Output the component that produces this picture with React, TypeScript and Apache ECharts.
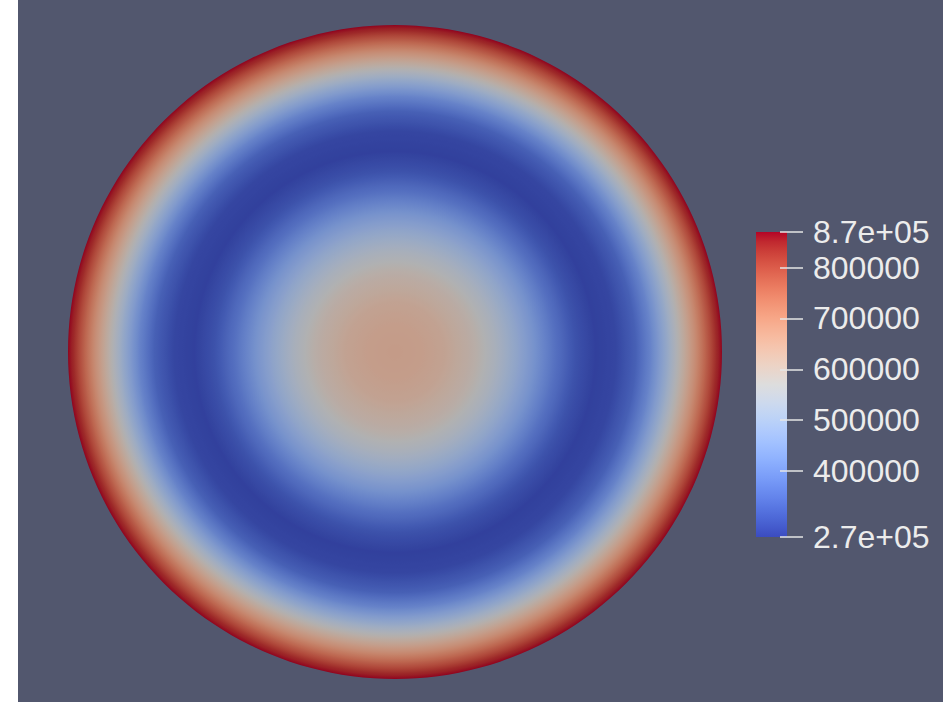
import React, { useEffect, useRef } from 'react';
import * as echarts from 'echarts';

// Radial profile of the field (radius as fraction of disk radius, value)
const radii = [0, 0.077, 0.153, 0.245, 0.307, 0.368, 0.429, 0.491, 0.552, 0.613, 0.675, 0.736, 0.782, 0.828, 0.874, 0.92, 0.957, 0.982, 1.0];
const values = [650000, 645000, 630000, 590000, 545000, 490000, 430000, 360000, 305000, 276000, 285000, 330000, 400000, 490000, 590000, 690000, 780000, 840000, 870000];

const rangeMin = 270000;
const rangeMax = 870000;
const tickValues = [270000, 400000, 500000, 600000, 700000, 800000, 870000];
const tickLabels: Record<number, string> = { 270000: '2.7e+05', 870000: '8.7e+05' };

// ParaView "Cool to Warm" colormap
const coolWarm = [
  [59, 76, 192], [68, 90, 204], [77, 104, 215], [87, 117, 225], [98, 130, 234], [108, 142, 241],
  [119, 154, 247], [130, 165, 251], [141, 176, 254], [152, 185, 255], [163, 194, 255], [174, 201, 253],
  [184, 208, 249], [194, 213, 244], [204, 217, 238], [213, 219, 230], [221, 221, 221], [229, 216, 209],
  [236, 211, 197], [241, 204, 185], [245, 196, 173], [247, 187, 160], [247, 177, 148], [247, 166, 135],
  [244, 154, 123], [241, 141, 111], [236, 127, 99], [229, 112, 88], [222, 96, 77], [213, 80, 66],
  [203, 62, 56], [192, 40, 47], [180, 4, 38],
];

function cmap(v: number, shade = 1): string {
  let t = (v - rangeMin) / (rangeMax - rangeMin);
  t = Math.max(0, Math.min(1, t));
  const f = t * (coolWarm.length - 1);
  const i = Math.min(coolWarm.length - 2, Math.floor(f));
  const u = f - i;
  const a = coolWarm[i], b = coolWarm[i + 1];
  const c = [0, 1, 2].map((k) => Math.round((a[k] + (b[k] - a[k]) * u) * shade));
  return `rgb(${c[0]},${c[1]},${c[2]})`;
}

const SHADE = 0.8;
const SUB = 8;

function diskStops() {
  const stops: { offset: number; color: string }[] = [];
  for (let i = 0; i < radii.length - 1; i++) {
    for (let s = 0; s < SUB; s++) {
      const u = s / SUB;
      const r = radii[i] + (radii[i + 1] - radii[i]) * u;
      const v = values[i] + (values[i + 1] - values[i]) * u;
      stops.push({ offset: r, color: cmap(v, SHADE) });
    }
  }
  stops.push({ offset: radii[radii.length - 1], color: cmap(values[values.length - 1], SHADE) });
  return stops;
}

function barStops() {
  const n = coolWarm.length;
  const stops: { offset: number; color: string }[] = [];
  for (let i = 0; i < n; i++) {
    const c = coolWarm[n - 1 - i];
    stops.push({ offset: i / (n - 1), color: `rgb(${c[0]},${c[1]},${c[2]})` });
  }
  return stops;
}

export default function App() {
  const ref = useRef<HTMLDivElement>(null);
  useEffect(() => {
    if (!ref.current) return;
    const chart = echarts.init(ref.current, null, { renderer: 'svg' });
    const option: any = {
      animation: false,
      backgroundColor: '#52576e',
      grid: [
        { left: 50, top: 25, width: 654, height: 654 },
        { left: 738, top: 232, width: 31, height: 305 },
        { left: 762, top: 232, width: 23, height: 305 },
      ],
      xAxis: [
        { gridIndex: 0, type: 'value', min: -1, max: 1, show: false },
        { gridIndex: 1, type: 'value', min: 0, max: 1, show: false },
        { gridIndex: 2, type: 'value', min: 0, max: 1, show: false },
      ],
      yAxis: [
        { gridIndex: 0, type: 'value', min: -1, max: 1, show: false },
        { gridIndex: 1, type: 'value', min: rangeMin, max: rangeMax, show: false },
        {
          gridIndex: 2,
          type: 'value',
          min: rangeMin,
          max: rangeMax,
          position: 'left',
          z: 10,
          splitLine: { show: false },
          axisLine: { show: false },
          axisTick: {
            show: true,
            inside: true,
            length: 23,
            customValues: tickValues,
            lineStyle: { color: '#e6e6e6', width: 1.5 },
          },
          axisLabel: {
            show: true,
            inside: true,
            margin: 33,
            customValues: tickValues,
            color: '#ececec',
            fontSize: 32,
            fontFamily: 'Liberation Sans, Arial, sans-serif',
            formatter: (v: number) => tickLabels[v] ?? String(v),
          },
        },
      ],
      series: [
        {
          type: 'custom',
          xAxisIndex: 0,
          yAxisIndex: 0,
          data: [[0, 0]],
          clip: false,
          renderItem: (params: any, api: any) => {
            const c = api.coord([0, 0]);
            const R = api.size([1, 0])[0];
            return {
              type: 'circle',
              shape: { cx: c[0], cy: c[1], r: R },
              style: {
                fill: new echarts.graphic.RadialGradient(0.5, 0.5, 0.5, diskStops()),
                stroke: null,
              },
            };
          },
        },
        {
          type: 'custom',
          xAxisIndex: 1,
          yAxisIndex: 1,
          data: [[0, rangeMax]],
          clip: false,
          z: 1,
          renderItem: (params: any, api: any) => {
            const p0 = api.coord([0, rangeMax]);
            const p1 = api.coord([1, rangeMin]);
            return {
              type: 'rect',
              shape: { x: p0[0], y: p0[1], width: p1[0] - p0[0], height: p1[1] - p0[1] },
              style: {
                fill: new echarts.graphic.LinearGradient(0, 0, 0, 1, barStops()),
                stroke: null,
              },
            };
          },
        },
      ],
    };
    chart.setOption(option);
    return () => chart.dispose();
  }, []);
  return (
    <div
      ref={ref}
      style={{ position: 'absolute', left: 18, top: 0, width: 925, height: 702 }}
    />
  );
}
